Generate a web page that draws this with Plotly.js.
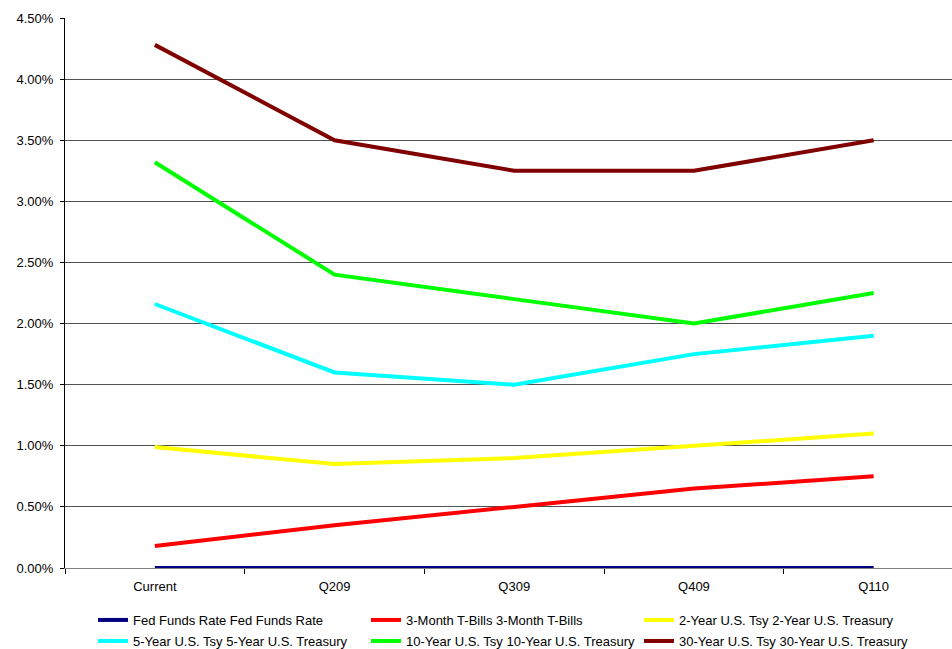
<!DOCTYPE html>
<html>
<head>
<meta charset="utf-8">
<script src="https://cdn.plot.ly/plotly-3.0.1.min.js"></script>
<style>html,body{margin:0;padding:0;overflow:hidden;background:#fff;}</style>
</head>
<body>
<div id="chart" style="width:952px;height:649px;"></div>
<script>
var categories = ["Current", "Q209", "Q309", "Q409", "Q110"];
var fedFunds = [0, 0, 0, 0, 0];
var tBills3m = [0.18, 0.35, 0.50, 0.65, 0.75];
var tsy2y = [0.99, 0.85, 0.90, 1.00, 1.10];
var tsy5y = [2.16, 1.60, 1.50, 1.75, 1.90];
var tsy10y = [3.32, 2.40, 2.20, 2.00, 2.25];
var tsy30y = [4.28, 3.50, 3.25, 3.25, 3.50];
var seriesNames = [
  "Fed Funds Rate Fed Funds Rate",
  "3-Month T-Bills 3-Month T-Bills",
  "2-Year U.S. Tsy 2-Year U.S. Treasury",
  "5-Year U.S. Tsy 5-Year U.S. Treasury",
  "10-Year U.S. Tsy 10-Year U.S. Treasury",
  "30-Year U.S. Tsy 30-Year U.S. Treasury"
];
var seriesValues = [fedFunds, tBills3m, tsy2y, tsy5y, tsy10y, tsy30y];
var seriesColors = ["#000080", "#FF0000", "#FFFF00", "#00FFFF", "#00FF00", "#800000"];
var legendRow = ["legend", "legend", "legend", "legend2", "legend2", "legend2"];

var font = "Arial, 'Liberation Sans', sans-serif";
var traces = seriesValues.map(function (vals, i) {
  return {
    type: "scatter", mode: "lines",
    x: categories, y: vals, name: seriesNames[i],
    legend: legendRow[i],
    line: {color: seriesColors[i], width: 4},
    hoverinfo: "skip"
  };
});

var legendCommon = {
  orientation: "h", xref: "container", yref: "container",
  x: 0.0977, xanchor: "left", yanchor: "middle",
  entrywidth: 228, entrywidthmode: "pixels",
  font: {family: font, size: 13, color: "#000"},
  bgcolor: "rgba(0,0,0,0)", borderwidth: 0, itemwidth: 30
};

var layout = {
  width: 952, height: 649,
  margin: {l: 65, r: 0, t: 18, b: 81},
  paper_bgcolor: "#fff", plot_bgcolor: "#fff",
  font: {family: font, size: 13, color: "#000"},
  showlegend: true,
  legend: Object.assign({}, legendCommon, {y: 0.0447}),
  legend2: Object.assign({}, legendCommon, {y: 0.0123}),
  xaxis: {
    type: "category", range: [-0.5, 4.436],
    showgrid: false, zeroline: false,
    showline: true, linecolor: "#808080", linewidth: 1,
    ticks: "outside", tickson: "boundaries", ticklen: 5, tickcolor: "#000", tickwidth: 1,
    ticklabelstandoff: 6,
    tickfont: {family: font, size: 13, color: "#000"}
  },
  yaxis: {
    range: [0, 4.5], dtick: 0.5, tick0: 0,
    tickformat: ".2f", ticksuffix: "%",
    showgrid: true, gridcolor: "#505050", gridwidth: 1,
    zeroline: false,
    showline: true, linecolor: "#000", linewidth: 1,
    ticks: "outside", ticklen: 4, tickcolor: "#000",
    ticklabelstandoff: 4,
    tickfont: {family: font, size: 13, color: "#000"}
  }
};

Plotly.newPlot("chart", traces, layout, {displayModeBar: false, staticPlot: true});
</script>
</body>
</html>
